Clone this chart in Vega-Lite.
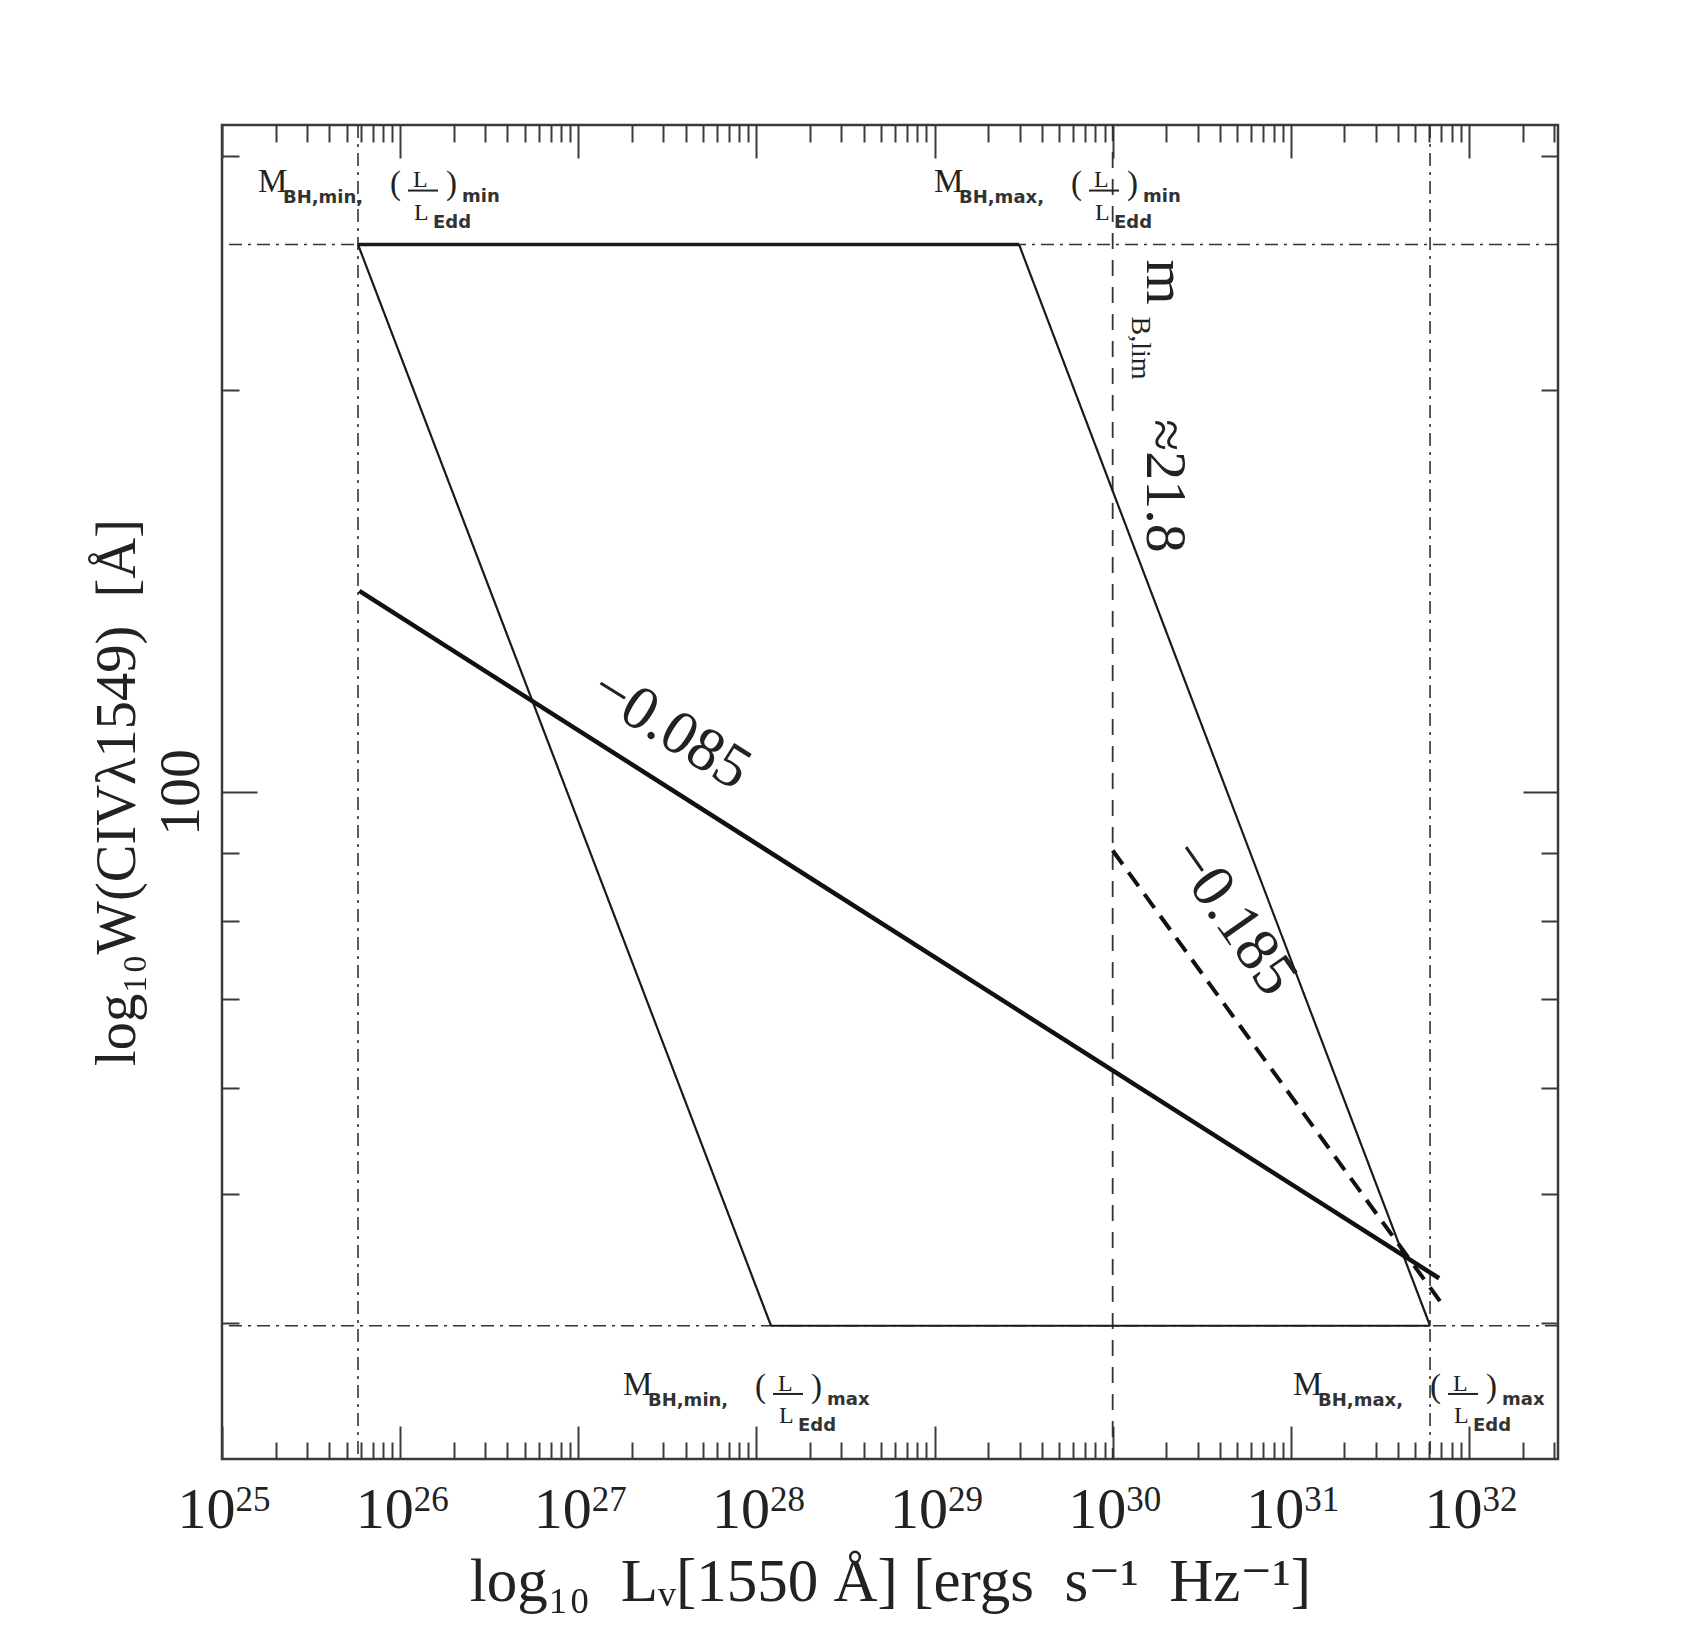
{
  "$schema": "https://vega.github.io/schema/vega-lite/v6.json",
  "width": 1336,
  "height": 1334,
  "autosize": {"type": "none"},
  "padding": {"left": 222, "top": 125, "right": 124, "bottom": 193},
  "background": "white",
  "config": {
    "view": {"stroke": "#3a3a3a", "strokeWidth": 2.5},
    "axis": {"grid": false, "domain": false, "labelFont": "Liberation Serif", "titleFont": "Liberation Serif, DejaVu Serif", "tickColor": "#3a3a3a", "tickWidth": 2, "labelColor": "#222222", "titleColor": "#222222", "titleFontWeight": "normal"}
  },
  "resolve": {"axis": {"x": "independent", "y": "independent"}},
  "datasets": {
    "rulesX": [{"lum": 5.80e25, "kind": "dd"}, {"lum": 6.05e31, "kind": "dd"}, {"lum": 1e30, "kind": "dash"}],
    "rulesY": [{"ew": 257.3}, {"ew": 39.8}],
    "edges": [
      {"seg": "top", "lum": 5.80e25, "ew": 257.3}, {"seg": "top", "lum": 2.98e29, "ew": 257.3},
      {"seg": "left", "lum": 5.80e25, "ew": 257.3}, {"seg": "left", "lum": 1.208e28, "ew": 39.8},
      {"seg": "bottom", "lum": 1.208e28, "ew": 39.8}, {"seg": "bottom", "lum": 6.05e31, "ew": 39.8},
      {"seg": "right", "lum": 2.98e29, "ew": 257.3}, {"seg": "right", "lum": 6.05e31, "ew": 39.8},
      {"seg": "fit085", "lum": 5.9e25, "ew": 141.5}, {"seg": "fit085", "lum": 6.8e31, "ew": 43.2},
      {"seg": "fit185", "lum": 1e30, "ew": 90.4}, {"seg": "fit185", "lum": 6.9e31, "ew": 41.5}
    ],
    "pieces": [
      {"k": "big", "t": "M", "lum": 1.592e25, "ew": 281.9},
      {"k": "big", "t": "(", "lum": 8.772e25, "ew": 280.9},
      {"k": "big", "t": ")", "lum": 1.809e26, "ew": 280.9},
      {"k": "big", "t": "M", "lum": 9.934e28, "ew": 281.9},
      {"k": "big", "t": "(", "lum": 5.837e29, "ew": 280.9},
      {"k": "big", "t": ")", "lum": 1.204e30, "ew": 280.9},
      {"k": "big", "t": "M", "lum": 1.783e27, "ew": 35.32},
      {"k": "big", "t": "(", "lum": 9.822e27, "ew": 35.19},
      {"k": "big", "t": ")", "lum": 2.026e28, "ew": 35.19},
      {"k": "big", "t": "M", "lum": 1.029e31, "ew": 35.32},
      {"k": "big", "t": "(", "lum": 6.046e31, "ew": 35.19},
      {"k": "big", "t": ")", "lum": 1.247e32, "ew": 35.19},
      {"k": "mid", "t": "L", "lum": 1.181e26, "ew": 283.9},
      {"k": "mid", "t": "L", "lum": 1.196e26, "ew": 268.6},
      {"k": "mid", "t": "L", "lum": 7.859e29, "ew": 283.9},
      {"k": "mid", "t": "L", "lum": 7.961e29, "ew": 268.6},
      {"k": "mid", "t": "L", "lum": 1.322e28, "ew": 35.56},
      {"k": "mid", "t": "L", "lum": 1.339e28, "ew": 33.65},
      {"k": "mid", "t": "L", "lum": 8.142e31, "ew": 35.56},
      {"k": "mid", "t": "L", "lum": 8.248e31, "ew": 33.65},
      {"k": "sub", "t": "BH,min,", "lum": 2.200e25, "ew": 276.6},
      {"k": "sub", "t": "Edd", "lum": 1.529e26, "ew": 264.9},
      {"k": "sub", "t": "min", "lum": 2.225e26, "ew": 277.1},
      {"k": "sub", "t": "BH,max,", "lum": 1.372e29, "ew": 276.6},
      {"k": "sub", "t": "Edd", "lum": 1.018e30, "ew": 264.9},
      {"k": "sub", "t": "min", "lum": 1.480e30, "ew": 277.1},
      {"k": "sub", "t": "BH,min,", "lum": 2.463e27, "ew": 34.65},
      {"k": "sub", "t": "Edd", "lum": 1.712e28, "ew": 33.19},
      {"k": "sub", "t": "max", "lum": 2.491e28, "ew": 34.71},
      {"k": "sub", "t": "BH,max,", "lum": 1.422e31, "ew": 34.65},
      {"k": "sub", "t": "Edd", "lum": 1.054e32, "ew": 33.19},
      {"k": "sub", "t": "max", "lum": 1.534e32, "ew": 34.71},
      {"k": "slope1", "t": "−0.085", "lum": 3.316e27, "ew": 111.5},
      {"k": "slope2", "t": "−0.185", "lum": 4.740e30, "ew": 80.6},
      {"k": "vbig", "t": "m", "lum": 1.559e30, "ew": 250.7},
      {"k": "vbig", "t": "≈21.8", "lum": 1.559e30, "ew": 190.2},
      {"k": "vsub", "t": "B,lim", "lum": 1.284e30, "ew": 227.2}
    ],
    "bars": [
      {"lum": 1.107e26, "lum2": 1.632e26, "ew": 282.4},
      {"lum": 7.364e29, "lum2": 1.086e30, "ew": 282.4},
      {"lum": 1.239e28, "lum2": 1.827e28, "ew": 35.38},
      {"lum": 7.631e31, "lum2": 1.125e32, "ew": 35.38}
    ]
  },
  "layer": [
    {
      "data": {"name": "rulesX"},
      "transform": [{"filter": "datum.kind == 'dd'"}],
      "mark": {"type": "rule", "strokeDash": [13, 6, 3, 6], "strokeWidth": 1.6, "color": "#333333"},
      "encoding": {"x": {"field": "lum", "type": "quantitative", "scale": {"type": "log", "domain": [1e25, 3.1623e32], "nice": false}, "axis": null}}
    },
    {
      "data": {"name": "rulesX"},
      "transform": [{"filter": "datum.kind == 'dash'"}],
      "mark": {"type": "rule", "strokeDash": [16, 11], "strokeWidth": 1.8, "color": "#333333"},
      "encoding": {"x": {"field": "lum", "type": "quantitative", "scale": {"type": "log", "domain": [1e25, 3.1623e32], "nice": false}, "axis": null}}
    },
    {
      "data": {"name": "rulesY"},
      "mark": {"type": "rule", "strokeDash": [13, 6, 3, 6], "strokeWidth": 1.6, "color": "#333333"},
      "encoding": {"y": {"field": "ew", "type": "quantitative", "scale": {"type": "log", "domain": [31.623, 316.23], "nice": false}, "axis": null}}
    },
    {
      "data": {"name": "edges"},
      "transform": [{"filter": "datum.seg == 'top'"}],
      "mark": {"type": "line", "strokeWidth": 3.5, "color": "#1a1a1a"},
      "encoding": {
        "x": {"field": "lum", "type": "quantitative", "scale": {"type": "log", "domain": [1e25, 3.1623e32], "nice": false},
          "axis": {"orient": "bottom", "values": [2e25,3e25,4e25,5e25,6e25,7e25,8e25,9e25,2e26,3e26,4e26,5e26,6e26,7e26,8e26,9e26,2e27,3e27,4e27,5e27,6e27,7e27,8e27,9e27,2e28,3e28,4e28,5e28,6e28,7e28,8e28,9e28,2e29,3e29,4e29,5e29,6e29,7e29,8e29,9e29,2e30,3e30,4e30,5e30,6e30,7e30,8e30,9e30,2e31,3e31,4e31,5e31,6e31,7e31,8e31,9e31,2e32,3e32], "tickSize": -17, "labels": false, "title": null}},
        "y": {"field": "ew", "type": "quantitative", "scale": {"type": "log", "domain": [31.623, 316.23], "nice": false},
          "axis": {"orient": "left", "values": [40, 50, 60, 70, 80, 90, 200, 300], "tickSize": -17, "labels": false, "title": null}}
      }
    },
    {
      "data": {"name": "edges"},
      "transform": [{"filter": "datum.seg == 'left' || datum.seg == 'right' || datum.seg == 'bottom'"}],
      "mark": {"type": "line", "strokeWidth": 2.2, "color": "#1a1a1a"},
      "encoding": {
        "detail": {"field": "seg"},
        "x": {"field": "lum", "type": "quantitative", "scale": {"type": "log", "domain": [1e25, 3.1623e32], "nice": false},
          "axis": {"orient": "bottom", "values": [1e25,1e26,1e27,1e28,1e29,1e30,1e31,1e32], "tickSize": -33, "labels": false, "title": null}},
        "y": {"field": "ew", "type": "quantitative", "scale": {"type": "log", "domain": [31.623, 316.23], "nice": false},
          "axis": {"orient": "left", "values": [100], "tickSize": -35, "labels": false, "title": null}}
      }
    },
    {
      "data": {"name": "edges"},
      "transform": [{"filter": "datum.seg == 'fit085'"}],
      "mark": {"type": "line", "strokeWidth": 4.5, "color": "#111111"},
      "encoding": {
        "x": {"field": "lum", "type": "quantitative", "scale": {"type": "log", "domain": [1e25, 3.1623e32], "nice": false},
          "axis": {"orient": "bottom", "values": [1e25,1e26,1e27,1e28,1e29,1e30,1e31,1e32], "ticks": false, "labelFontSize": 58, "labelBaseline": "alphabetic", "labelAlign": "right", "labelOffset": 13, "labelPadding": 68, "labelFlush": false, "labelOverlap": false,
            "labelExpr": "'10'",
            "title": "log\u2081\u2080\u00a0 L\u1d65[1550 \u00c5] [ergs\u00a0 s\u207b\u00b9\u00a0 Hz\u207b\u00b9]", "titleFontSize": 61, "titleX": 668, "titleY": 141, "titleBaseline": "alphabetic", "titleAlign": "center"}},
        "y": {"field": "ew", "type": "quantitative", "scale": {"type": "log", "domain": [31.623, 316.23], "nice": false},
          "axis": {"orient": "left", "values": [100], "ticks": false, "format": "d", "labelAngle": -90, "labelAlign": "center", "labelBaseline": "alphabetic", "labelPadding": 24, "labelFontSize": 58,
            "title": "log\u2081\u2080W(CIV\u03bb1549)\u00a0 [\u00c5]", "titleFontSize": 56.5, "titleAngle": -90, "titleX": -88, "titleY": 667, "titleBaseline": "alphabetic", "titleAlign": "center"}}
      }
    },
    {
      "data": {"name": "edges"},
      "transform": [{"filter": "datum.seg == 'fit185'"}],
      "mark": {"type": "line", "strokeWidth": 4, "strokeDash": [17, 10], "color": "#111111"},
      "encoding": {
        "x": {"field": "lum", "type": "quantitative", "scale": {"type": "log", "domain": [1e25, 3.1623e32], "nice": false},
          "axis": {"orient": "top", "values": [2e25,3e25,4e25,5e25,6e25,7e25,8e25,9e25,2e26,3e26,4e26,5e26,6e26,7e26,8e26,9e26,2e27,3e27,4e27,5e27,6e27,7e27,8e27,9e27,2e28,3e28,4e28,5e28,6e28,7e28,8e28,9e28,2e29,3e29,4e29,5e29,6e29,7e29,8e29,9e29,2e30,3e30,4e30,5e30,6e30,7e30,8e30,9e30,2e31,3e31,4e31,5e31,6e31,7e31,8e31,9e31,2e32,3e32], "tickSize": -17, "labels": false, "title": null}},
        "y": {"field": "ew", "type": "quantitative", "scale": {"type": "log", "domain": [31.623, 316.23], "nice": false},
          "axis": {"orient": "right", "values": [40, 50, 60, 70, 80, 90, 200, 300], "tickSize": -17, "labels": false, "title": null}}
      }
    },
    {
      "data": {"name": "pieces"},
      "transform": [{"filter": "datum.k == 'big'"}],
      "mark": {"type": "text", "font": "Liberation Serif", "fontSize": 33, "align": "left", "baseline": "alphabetic", "color": "#222222"},
      "encoding": {
        "text": {"field": "t"},
        "x": {"field": "lum", "type": "quantitative", "scale": {"type": "log", "domain": [1e25, 3.1623e32], "nice": false},
          "axis": {"orient": "top", "values": [1e25,1e26,1e27,1e28,1e29,1e30,1e31,1e32], "tickSize": -33, "labels": false, "title": null}},
        "y": {"field": "ew", "type": "quantitative", "scale": {"type": "log", "domain": [31.623, 316.23], "nice": false},
          "axis": {"orient": "right", "values": [100], "tickSize": -35, "labels": false, "title": null}}
      }
    },
    {
      "data": {"name": "pieces"},
      "transform": [{"filter": "datum.k == 'mid'"}],
      "mark": {"type": "text", "font": "Liberation Serif", "fontSize": 24, "align": "left", "baseline": "alphabetic", "color": "#222222"},
      "encoding": {
        "text": {"field": "t"},
        "x": {"field": "lum", "type": "quantitative", "scale": {"type": "log", "domain": [1e25, 3.1623e32], "nice": false},
          "axis": {"orient": "bottom", "values": [1e25,1e26,1e27,1e28,1e29,1e30,1e31,1e32], "ticks": false, "labelFontSize": 35, "labelBaseline": "alphabetic", "labelAlign": "left", "labelOffset": 13, "labelPadding": 51, "labelFlush": false, "labelOverlap": false,
            "labelExpr": "format(round(log(datum.value)/LN10), 'd')", "title": null}},
        "y": {"field": "ew", "type": "quantitative", "scale": {"type": "log", "domain": [31.623, 316.23], "nice": false}, "axis": null}
      }
    },
    {
      "data": {"name": "pieces"},
      "transform": [{"filter": "datum.k == 'sub'"}],
      "mark": {"type": "text", "font": "DejaVu Sans", "fontWeight": "bold", "fontSize": 18, "align": "left", "baseline": "alphabetic", "color": "#333333"},
      "encoding": {
        "text": {"field": "t"},
        "x": {"field": "lum", "type": "quantitative", "scale": {"type": "log", "domain": [1e25, 3.1623e32], "nice": false}, "axis": null},
        "y": {"field": "ew", "type": "quantitative", "scale": {"type": "log", "domain": [31.623, 316.23], "nice": false}, "axis": null}
      }
    },
    {
      "data": {"name": "bars"},
      "mark": {"type": "rule", "strokeWidth": 2, "color": "#222222"},
      "encoding": {
        "x": {"field": "lum", "type": "quantitative", "scale": {"type": "log", "domain": [1e25, 3.1623e32], "nice": false}, "axis": null},
        "x2": {"field": "lum2"},
        "y": {"field": "ew", "type": "quantitative", "scale": {"type": "log", "domain": [31.623, 316.23], "nice": false}, "axis": null}
      }
    },
    {
      "data": {"name": "pieces"},
      "transform": [{"filter": "datum.k == 'slope1'"}],
      "mark": {"type": "text", "font": "Liberation Serif", "fontSize": 62, "align": "center", "baseline": "middle", "angle": 32, "color": "#222222"},
      "encoding": {
        "text": {"field": "t"},
        "x": {"field": "lum", "type": "quantitative", "scale": {"type": "log", "domain": [1e25, 3.1623e32], "nice": false}, "axis": null},
        "y": {"field": "ew", "type": "quantitative", "scale": {"type": "log", "domain": [31.623, 316.23], "nice": false}, "axis": null}
      }
    },
    {
      "data": {"name": "pieces"},
      "transform": [{"filter": "datum.k == 'slope2'"}],
      "mark": {"type": "text", "font": "Liberation Serif", "fontSize": 62, "align": "center", "baseline": "middle", "angle": 55, "color": "#222222"},
      "encoding": {
        "text": {"field": "t"},
        "x": {"field": "lum", "type": "quantitative", "scale": {"type": "log", "domain": [1e25, 3.1623e32], "nice": false}, "axis": null},
        "y": {"field": "ew", "type": "quantitative", "scale": {"type": "log", "domain": [31.623, 316.23], "nice": false}, "axis": null}
      }
    },
    {
      "data": {"name": "pieces"},
      "transform": [{"filter": "datum.k == 'vbig'"}],
      "mark": {"type": "text", "font": "Liberation Serif", "fontSize": 58, "align": "left", "baseline": "alphabetic", "angle": 90, "color": "#222222"},
      "encoding": {
        "text": {"field": "t"},
        "x": {"field": "lum", "type": "quantitative", "scale": {"type": "log", "domain": [1e25, 3.1623e32], "nice": false}, "axis": null},
        "y": {"field": "ew", "type": "quantitative", "scale": {"type": "log", "domain": [31.623, 316.23], "nice": false}, "axis": null}
      }
    },
    {
      "data": {"name": "pieces"},
      "transform": [{"filter": "datum.k == 'vsub'"}],
      "mark": {"type": "text", "font": "Liberation Serif", "fontSize": 28, "align": "left", "baseline": "alphabetic", "angle": 90, "color": "#222222"},
      "encoding": {
        "text": {"field": "t"},
        "x": {"field": "lum", "type": "quantitative", "scale": {"type": "log", "domain": [1e25, 3.1623e32], "nice": false}, "axis": null},
        "y": {"field": "ew", "type": "quantitative", "scale": {"type": "log", "domain": [31.623, 316.23], "nice": false}, "axis": null}
      }
    }
  ]
}
